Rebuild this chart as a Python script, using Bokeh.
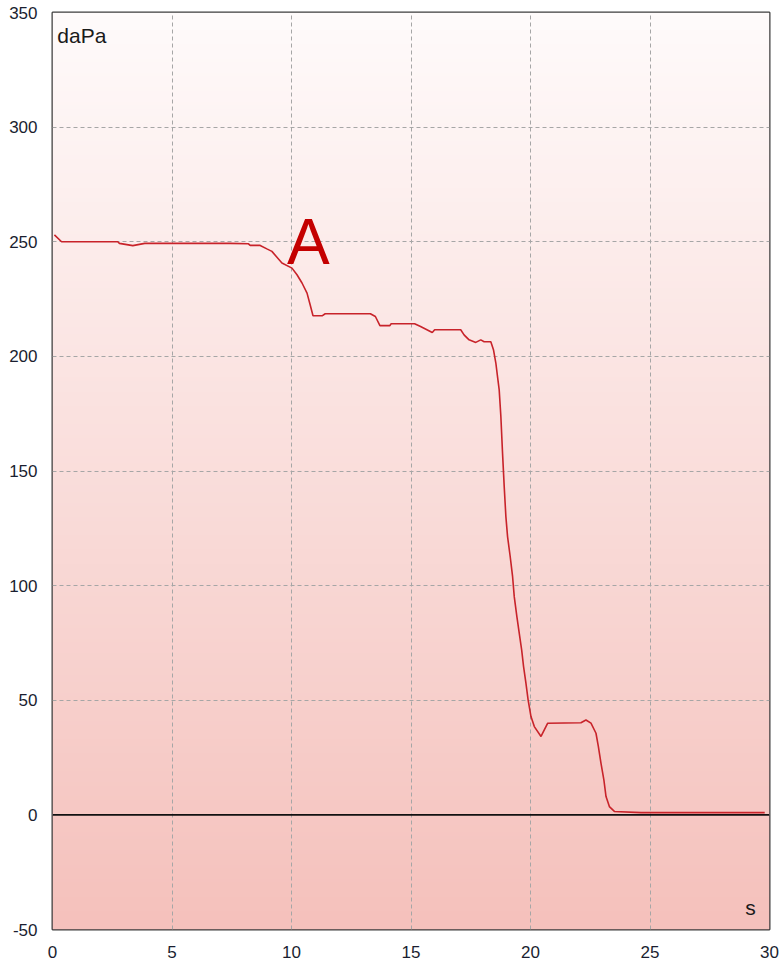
import numpy as np
from bokeh.plotting import figure
from bokeh.models import Span, Label, FixedTicker
from bokeh.embed import file_html
from bokeh.resources import INLINE

# Pressure trace (time in s, pressure in daPa)
time_s = [0.08, 0.38, 2.73, 2.80, 3.36, 3.86, 7.43, 8.20, 8.27, 8.69, 8.97, 9.18, 9.60,
          10.02, 10.23, 10.44, 10.65, 10.78, 10.90, 11.28, 11.41, 13.30, 13.51, 13.70,
          14.11, 14.17, 15.15, 15.40, 15.89, 15.99, 17.08, 17.22, 17.43, 17.71, 17.92,
          18.06, 18.34, 18.45, 18.55, 18.62, 18.69, 18.76, 18.83, 18.90, 18.97, 19.04,
          19.15, 19.25, 19.32, 19.43, 19.53, 19.63, 19.71, 19.81, 19.90, 20.02, 20.16,
          20.44, 20.72, 22.11, 22.32, 22.53, 22.74, 22.84, 22.95, 23.07, 23.16, 23.30,
          23.51, 24.63, 29.80]
pressure_dapa = [253.0, 250.0, 250.0, 249.3, 248.3, 249.3, 249.3, 249.1, 248.4, 248.4,
                 246.9, 245.8, 240.7, 238.5, 235.6, 232.0, 227.6, 222.5, 217.7, 217.7,
                 218.6, 218.6, 217.4, 213.4, 213.4, 214.2, 214.2, 213.0, 210.4, 211.6,
                 211.6, 209.4, 207.2, 206.1, 207.2, 206.4, 206.4, 202.9, 197.1, 191.2,
                 185.4, 173.8, 157.8, 143.2, 130.1, 121.4, 112.7, 104.0, 95.2, 86.5,
                 79.2, 72.0, 64.7, 57.4, 50.2, 42.9, 38.5, 34.2, 40.0, 40.2, 41.4, 40.0,
                 35.6, 29.8, 22.5, 15.3, 8.0, 3.6, 1.5, 1.0, 1.0]

x_ticks = [0, 5, 10, 15, 20, 25, 30]
y_ticks = [-50, 0, 50, 100, 150, 200, 250, 300, 350]
y_tick_labels = ["-50", "0", "50", "100", "150", "200", "250", "300", "350"]
x_range = (0, 30)
y_range = (-50, 350)

p = figure(frame_width=717, frame_height=917, x_range=x_range, y_range=y_range,
           output_backend="svg", toolbar_location=None,
           min_border_left=52, min_border_right=13, min_border_top=12, min_border_bottom=34)

# gradient background (white-pink at top to pink at bottom)
n = 256
top = np.array([255, 251, 251], dtype=float)
bot = np.array([245, 193, 188], dtype=float)
t = np.linspace(0, 1, n)[:, None]  # row 0 = bottom
cols = bot * (1 - t) + top * t
img = np.empty((n, 2), dtype=np.uint32)
view = img.view(dtype=np.uint8).reshape((n, 2, 4))
view[:, :, 0] = cols[:, 0][:, None].astype(np.uint8)
view[:, :, 1] = cols[:, 1][:, None].astype(np.uint8)
view[:, :, 2] = cols[:, 2][:, None].astype(np.uint8)
view[:, :, 3] = 255
bg = p.image_rgba(image=[img], x=x_range[0], y=y_range[0],
                  dw=x_range[1] - x_range[0], dh=y_range[1] - y_range[0])
bg.level = "image"

p.background_fill_color = "white"
p.border_fill_color = "white"
p.outline_line_color = "#3c3c3c"
p.outline_line_width = 2

for ax in (p.xaxis, p.yaxis):
    ax.axis_line_color = None
    ax.major_tick_line_color = None
    ax.minor_tick_line_color = None
    ax.major_tick_out = 0
    ax.major_tick_in = 0
    ax.major_label_text_font = "Liberation Sans"
    ax.major_label_text_font_size = "17px"
    ax.major_label_text_color = "#1a1e30"
p.xaxis.ticker = FixedTicker(ticks=x_ticks)
p.yaxis.ticker = FixedTicker(ticks=y_ticks)
p.yaxis.major_label_overrides = {v: s for v, s in zip(y_ticks, y_tick_labels)}
p.xaxis.major_label_standoff = 16
p.yaxis.major_label_standoff = 15

p.xgrid.ticker = FixedTicker(ticks=x_ticks)
p.ygrid.ticker = FixedTicker(ticks=y_ticks)
for g in (p.xgrid, p.ygrid):
    g.grid_line_color = "#a6a6a6"
    g.grid_line_dash = "4 3"
    g.grid_line_width = 1

p.add_layout(Span(location=0, dimension="width", line_color="#111111", line_width=1.6))

p.line(time_s, pressure_dapa, line_color="#c8232a", line_width=1.6)

p.add_layout(Label(x=10.7, y=250, text="A", text_align="center", text_baseline="alphabetic",
                   text_font="Liberation Sans", text_font_size="64px", text_color="#c40000"))
p.add_layout(Label(x=0.2, y=340, text="daPa", text_align="left", text_baseline="middle",
                   text_font="Liberation Sans", text_font_size="21px", text_color="#1a1a1a"))
p.add_layout(Label(x=29.2, y=-40.5, text="s", text_align="center", text_baseline="middle",
                   text_font="Liberation Sans", text_font_size="21px", text_color="#1a1a1a"))

open("out.html", "w").write(file_html(p, INLINE))
